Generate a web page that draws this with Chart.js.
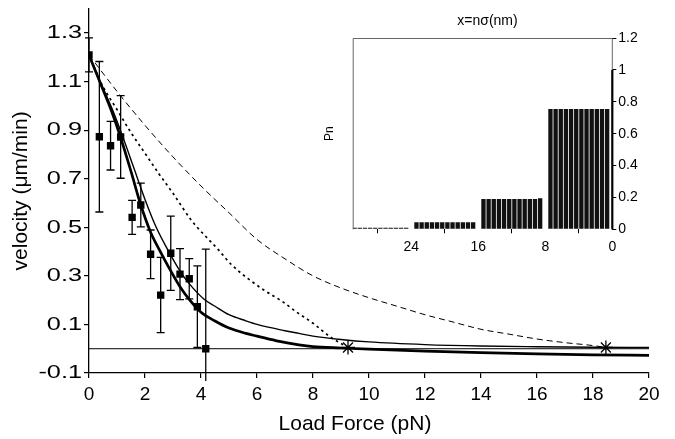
<!DOCTYPE html>
<html><head><meta charset="utf-8">
<script src="https://cdn.jsdelivr.net/npm/chart.js@4"></script>
<style>
html,body{margin:0;padding:0;background:#fff;}
#wrap{position:relative;width:675px;height:439px;overflow:hidden;}
#main{position:absolute;left:0;top:0;}
#inset{position:absolute;left:300px;top:0;}
</style></head><body>
<div id="wrap"><canvas id="main" width="675" height="439"></canvas><canvas id="inset" width="375" height="262"></canvas></div>
<script>
// ---- measured data (load force in pN, velocity in um/min) ----
const forceX = [0, 0.37, 0.77, 1.13, 1.54, 1.85, 2.2, 2.56, 2.92, 3.25, 3.58, 3.87, 4.17];
const velY   = [1.21, 0.873, 0.836, 0.872, 0.541, 0.592, 0.389, 0.221, 0.393, 0.307, 0.288, 0.173, 0.0];
const velErr = [0.07, 0.31, 0.10, 0.17, 0.07, 0.09, 0.10, 0.155, 0.153, 0.105, 0.083, 0.168, 0.41];

// ---- model curves ----
const thickX = [0, 0.4, 0.8, 1.13, 1.5, 1.85, 2.2, 2.5, 2.8, 3.25, 3.6, 4.0, 4.5, 5.0, 5.6, 6.0, 6.8, 7.5, 8, 9, 10, 12, 14, 16, 18, 20];
const thickY = [1.21, 1.095, 0.98, 0.87, 0.73, 0.592, 0.48, 0.41, 0.345, 0.255, 0.2, 0.15, 0.114, 0.085, 0.063, 0.052, 0.03, 0.016, 0.009, 0.003, -0.002, -0.01, -0.016, -0.021, -0.025, -0.027];
const thinX  = [0, 0.4, 0.8, 1.2, 1.6, 2.0, 2.4, 2.8, 3.25, 3.6, 4.1, 4.5, 5.0, 5.6, 6.0, 7.0, 7.5, 8.0, 9.0, 10, 12, 14, 16, 18, 20];
const thinY  = [1.21, 1.10, 0.995, 0.875, 0.745, 0.615, 0.5, 0.41, 0.32, 0.265, 0.205, 0.175, 0.14, 0.115, 0.1, 0.074, 0.063, 0.052, 0.038, 0.028, 0.017, 0.011, 0.008, 0.006, 0.005];
const dotX   = [0, 0.5, 1.0, 1.5, 2.0, 2.5, 3.0, 3.65, 4.6, 5.1, 6.2, 6.9, 7.4, 8.0, 8.6, 9.25];
const dotY   = [1.21, 1.08, 0.985, 0.89, 0.805, 0.72, 0.64, 0.53, 0.41, 0.345, 0.245, 0.195, 0.152, 0.105, 0.05, 0.005];
const dashX  = [0, 1, 2, 3, 4, 5, 6, 7, 8, 9, 10, 11, 12, 13, 14, 15, 16, 17, 18, 18.46];
const dashY  = [1.21, 1.06, 0.92, 0.79, 0.67, 0.56, 0.45, 0.37, 0.30, 0.25, 0.21, 0.175, 0.14, 0.11, 0.08, 0.06, 0.04, 0.025, 0.013, 0.005];
const starX  = [9.25, 18.46];
const starY  = [0.005, 0.005];
const zeroX  = [0, 20];
const zeroY  = [0, 0];
const xTicks = [0, 2, 4, 6, 8, 10, 12, 14, 16, 18, 20];
const yTicks = [-0.1, 0.1, 0.3, 0.5, 0.7, 0.9, 1.1, 1.3];

// ---- inset: probability Pn at x = n*sigma (nm) ----
const SIGMA = 8 / 13;
const insetN  = [1,2,3,4,5,6,7,8,9,10,11,12, 14,15,16,17,18,19,20,21,22,23,24,25, 27,28,29,30,31,32,33,34,35,36,37,38, 40,41,42,43,44,45,46,47,48,49,50];
const insetPn = [0.755,0.755,0.755,0.755,0.755,0.755,0.755,0.755,0.755,0.755,0.755,0.755,
                 0.195,0.19,0.19,0.19,0.19,0.19,0.19,0.19,0.19,0.19,0.19,0.19,
                 0.045,0.045,0.045,0.045,0.045,0.045,0.045,0.045,0.045,0.045,0.045,0.045,
                 0.01,0.01,0.01,0.01,0.01,0.01,0.01,0.01,0.01,0.01,0.01];
const insetXTicks = [0, 8, 16, 24];
const insetYTicks = [0, 0.2, 0.4, 0.6, 0.8, 1, 1.2];

Chart.defaults.font.family = "'Liberation Sans', Arial, Helvetica, sans-serif";
Chart.defaults.color = '#000';
Chart.defaults.animation = false;

const pts = (xs, ys) => xs.map((x, i) => ({x, y: ys[i]}));

const errorBars = {
  id: 'errorBars',
  beforeDatasetsDraw(chart) {
    const {ctx, chartArea: a, scales: {x, y}} = chart;
    ctx.save();
    ctx.beginPath();
    ctx.rect(a.left - 10, a.top, a.right - a.left + 20, a.bottom - a.top + 8);
    ctx.clip();
    ctx.strokeStyle = '#000';
    ctx.lineWidth = 1.3;
    forceX.forEach((fx, i) => {
      const px = x.getPixelForValue(fx);
      const t = y.getPixelForValue(velY[i] + velErr[i]);
      const b = y.getPixelForValue(velY[i] - velErr[i]);
      ctx.beginPath();
      ctx.moveTo(px, t); ctx.lineTo(px, b);
      ctx.moveTo(px - 4, t); ctx.lineTo(px + 4, t);
      ctx.moveTo(px - 4, b); ctx.lineTo(px + 4, b);
      ctx.stroke();
    });
    ctx.restore();
  }
};

// the source figure's y tick labels are horizontally wide; stretch them, and shift the x title
const textTweaks = {
  id: 'textTweaks',
  beforeDraw(chart) {
    const ys = chart.scales.y, xs = chart.scales.x;
    if (!ys._wrapped) {
      const dl = ys.drawLabels.bind(ys);
      ys.drawLabels = function(area) {
        const c = this.ctx, ax = this.right - 7;
        c.save(); c.translate(ax, 0); c.scale(1.33, 1); c.translate(-ax, 0);
        dl(area);
        c.restore();
      };
      ys._wrapped = true;
    }
    if (!xs._wrapped) {
      const dt = xs.drawTitle.bind(xs);
      xs.drawTitle = function() {
        const c = this.ctx;
        c.save(); c.translate(-14, 0);
        dt();
        c.restore();
      };
      xs._wrapped = true;
    }
  }
};

const axisGrid = {drawOnChartArea: false, drawTicks: true, tickLength: 5, color: '#000', lineWidth: 1.2};

new Chart(document.getElementById('main'), {
  type: 'scatter',
  data: {
    datasets: [
      {data: pts(zeroX, zeroY), showLine: true, borderColor: '#000', borderWidth: 1, pointRadius: 0},
      {data: pts(dashX, dashY), showLine: true, borderColor: '#000', borderWidth: 1, borderDash: [6, 4], pointRadius: 0, cubicInterpolationMode: 'monotone'},
      {data: pts(dotX, dotY), showLine: true, borderColor: '#000', borderWidth: 1.7, borderDash: [2.5, 3.5], pointRadius: 0, cubicInterpolationMode: 'monotone'},
      {data: pts(thinX, thinY), showLine: true, borderColor: '#000', borderWidth: 1.4, pointRadius: 0, cubicInterpolationMode: 'monotone'},
      {data: pts(thickX, thickY), showLine: true, borderColor: '#000', borderWidth: 2.7, pointRadius: 0, cubicInterpolationMode: 'monotone'},
      {data: pts(forceX, velY), pointStyle: 'rect', pointRadius: 5.2, backgroundColor: '#000', borderWidth: 0},
      {data: pts(starX, starY), pointStyle: 'star', pointRadius: 7, borderColor: '#000', borderWidth: 1.3, backgroundColor: '#000'}
    ]
  },
  options: {
    responsive: false,
    devicePixelRatio: 1,
    layout: {padding: {top: 8.8, right: 26, left: 0, bottom: 0}},
    plugins: {legend: {display: false}, tooltip: {enabled: false}},
    scales: {
      x: {
        type: 'linear', min: 0, max: 20,
        afterBuildTicks: s => { s.ticks = xTicks.map(v => ({value: v})); },
        afterFit: s => { s.height = 66; s.paddingLeft = 0; s.paddingRight = 0; },
        grid: axisGrid,
        border: {color: '#000', width: 1.3},
        ticks: {font: {size: 19}, padding: 5, color: '#000', maxRotation: 0, callback: v => String(v)},
        title: {display: true, text: 'Load Force (pN)', font: {size: 21}, color: '#000', padding: {top: 0, bottom: 2}}
      },
      y: {
        type: 'linear', min: -0.1, max: 1.4,
        afterBuildTicks: s => { s.ticks = yTicks.map(v => ({value: v})); },
        afterFit: s => { s.width = 89; s.paddingTop = 0; s.paddingBottom = 0; },
        grid: axisGrid,
        border: {color: '#000', width: 1.3},
        ticks: {font: {size: 19}, padding: 2, color: '#000', callback: v => v.toFixed(1)},
        title: {display: true, text: 'velocity (μm/min)', font: {size: 21}, color: '#000', padding: {top: 9, bottom: 0}}
      }
    }
  },
  plugins: [errorBars, textTweaks]
});

const insetFrame = {
  id: 'insetFrame',
  afterDatasetsDraw(chart) {
    const {ctx, chartArea: a, scales: {y}} = chart;
    ctx.save();
    ctx.strokeStyle = '#666';
    ctx.lineWidth = 1;
    ctx.beginPath();
    ctx.moveTo(a.left + 0.5, a.bottom); ctx.lineTo(a.left + 0.5, a.top + 0.5);
    ctx.lineTo(a.right, a.top + 0.5); ctx.lineTo(a.right, y.getPixelForValue(1));
    ctx.stroke();
    ctx.strokeStyle = '#000';
    ctx.lineWidth = 2.2;
    ctx.beginPath();
    ctx.moveTo(a.right, y.getPixelForValue(1)); ctx.lineTo(a.right, a.bottom);
    ctx.stroke();
    ctx.restore();
  }
};

new Chart(document.getElementById('inset'), {
  type: 'bar',
  data: {
    datasets: [{data: insetN.map((n, i) => ({x: n * SIGMA, y: insetPn[i]})), backgroundColor: '#111', barPercentage: 0.84, categoryPercentage: 1.0, yAxisID: 'y'}]
  },
  options: {
    responsive: false,
    devicePixelRatio: 1,
    layout: {padding: 0},
    plugins: {
      legend: {display: false}, tooltip: {enabled: false},
      title: {display: true, text: 'x=nσ(nm)', font: {size: 14, weight: 'normal'}, color: '#000', padding: {top: 12.4, bottom: 8.8}}
    },
    scales: {
      x: {
        type: 'linear', min: 0, max: 31, reverse: true, offset: false,
        afterBuildTicks: s => { s.ticks = insetXTicks.map(v => ({value: v})); },
        afterFit: s => { s.height = 32.7; s.paddingLeft = 0; s.paddingRight = 0; },
        grid: {drawOnChartArea: false, drawTicks: true, tickLength: 4, color: '#000', lineWidth: 1},
        border: {display: false},
        ticks: {font: {size: 14}, padding: 5, color: '#000', maxRotation: 0}
      },
      y: {
        position: 'right', min: 0, max: 1.2,
        afterBuildTicks: s => { s.ticks = insetYTicks.map(v => ({value: v})); },
        afterFit: s => { s.width = 62.7; s.paddingTop = 0; s.paddingBottom = 0; },
        grid: {drawOnChartArea: false, drawTicks: true, tickLength: 4, color: '#000', lineWidth: 1},
        border: {display: false},
        ticks: {font: {size: 14}, padding: 2, color: '#000', callback: v => String(+v.toFixed(1))}
      },
      yl: {
        position: 'left', min: 0, max: 1.2,
        afterFit: s => { s.width = 52.7; s.paddingTop = 0; s.paddingBottom = 0; },
        grid: {display: false},
        border: {display: false},
        ticks: {display: false},
        title: {display: true, text: 'Pn', font: {size: 12}, color: '#000', padding: {top: 22.8, bottom: 0}}
      }
    }
  },
  plugins: [insetFrame]
});
</script>
</body></html>
